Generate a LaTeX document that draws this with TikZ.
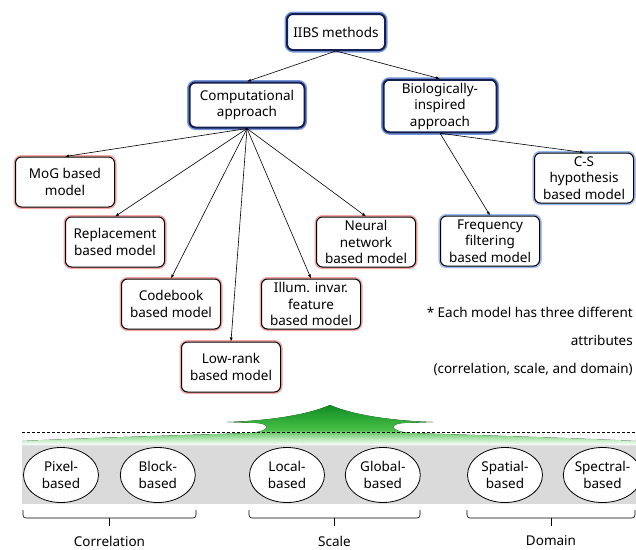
\documentclass[tikz,border=0pt]{standalone}
\usepackage{fontspec}
\setmainfont{Noto Sans}
\usetikzlibrary{arrows.meta, positioning, shapes.geometric}

\definecolor{navy}{RGB}{20,30,80}
\definecolor{glowblue}{RGB}{120,150,220}
\definecolor{glowred}{RGB}{245,165,165}
\definecolor{glowsky}{RGB}{150,185,240}
\definecolor{bandgray}{RGB}{218,218,218}
\definecolor{gtop}{RGB}{15,140,35}
\definecolor{gmid}{RGB}{70,190,70}
\pgfdeclareverticalshading{greenfade}{100bp}{color(0bp)=(white); color(25bp)=(white); color(45bp)=(gmid); color(75bp)=(gtop); color(100bp)=(gtop)}

\begin{document}
\begin{tikzpicture}[x=1pt, y=-1pt,
        font=\fontsize{13.5}{16.5}\selectfont,
        topbox/.style={draw=navy, line width=2pt, rounded corners=6pt, fill=white, align=center, inner sep=3pt,
            preaction={draw=glowblue, line width=5pt, rounded corners=6pt}},
        redbox/.style={draw, line width=1pt, rounded corners=6pt, fill=white, align=center, inner sep=2pt,
            minimum width=99pt, minimum height=50pt, preaction={draw=glowred, line width=4pt, rounded corners=6pt}},
        bluebox/.style={redbox, preaction={draw=glowsky, line width=4pt, rounded corners=6pt}},
        attr/.style={ellipse, draw, line width=0.8pt, fill=white, minimum width=75pt, minimum height=55pt, inner sep=0pt, align=center},
        arrow/.style={-{Latex[length=4pt, width=3pt]}, line width=0.6pt}
    ]
        \useasboundingbox (0,0) rectangle (636,549);

        % method tree
        \node[topbox, minimum width=98pt, minimum height=36pt] (root) at (336,32) {IIBS methods};
        \node[topbox, minimum width=115pt, minimum height=45pt] (comp) at (247,105) {Computational\\approach};
        \node[topbox, minimum width=113pt, minimum height=49pt] (bio) at (440,106) {Biologically-\\inspired\\approach};

        \node[redbox] (mog) at (65,182) {MoG based\\model};
        \node[redbox] (repl) at (115,242) {Replacement\\based model};
        \node[redbox] (codebook) at (171,304) {Codebook\\based model};
        \node[redbox] (lowrank) at (231,367) {Low-rank\\based model};
        \node[redbox] (illum) at (311,304) {Illum. invar.\\feature\\based model};
        \node[redbox] (neural) at (366,242) {Neural\\network\\based model};
        \node[bluebox] (freq) at (490,241) {Frequency\\filtering\\based model};
        \node[bluebox] (cs) at (584,178) {C-S\\hypothesis\\based model};

        \draw[arrow] (root.south) -- (comp.north);
        \draw[arrow] (root.south) -- (bio.north);
        \foreach \m in {mog, repl, codebook, lowrank, illum, neural}
            \draw[arrow] (comp.south) -- (\m.north);
        \foreach \m in {freq, cs}
            \draw[arrow] (bio.south) -- (\m.north);

        \node[anchor=north east, align=right, inner sep=0pt, font=\fontsize{13.5}{28}\selectfont] (note) at (633,307)
            {* Each model has three different\\attributes\\(correlation, scale, and domain)};

        % attribute band
        \fill[shading=greenfade] (330,405) .. controls (305,416) and (262,421) .. (227,422) -- (256,423)
            .. controls (272,424) and (270,431) .. (250,433) .. controls (150,436) and (60,439) .. (22,441)
            -- (22,445) -- (636,445) -- (636,441) .. controls (600,439) and (510,436) .. (410,433)
            .. controls (390,431) and (388,424) .. (404,423) -- (433,422)
            .. controls (398,421) and (355,416) .. (330,405) -- cycle;
        \draw[line width=0.8pt, dash pattern=on 3pt off 2pt] (22,432) -- (636,432);
        \fill[bandgray] (22,446) rectangle (636,504);

        \node[attr] (pixel) at (61,475) {Pixel-\\based};
        \node[attr, right=21pt of pixel] (blockb) {Block-\\based};
        \node[attr] (local) at (287,475) {Local-\\based};
        \node[attr, right=20pt of local] (global) {Global-\\based};
        \node[attr] (spatial) at (505,475) {Spatial-\\based};
        \node[attr, right=20pt of spatial] (spectral) {Spectral-\\based};

        \foreach \a/\b/\lab/\nm in {23/196/Correlation/corr, 249/420/Scale/scale, 467/635/Domain/dom} {
            \draw[line width=0.6pt, rounded corners=3pt] (\a,510) -- (\a,518) -- (\b,518) -- (\b,510);
            \draw[line width=0.6pt] ({(\a+\b)/2},518) -- ++(0,8);
            \node (\nm) at ({(\a+\b)/2},541) {\lab};
        }
    \end{tikzpicture}
\end{document}
